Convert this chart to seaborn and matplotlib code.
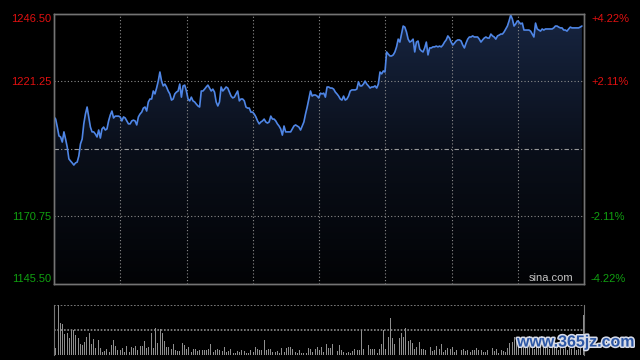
# intraday index chart (sina style): price line + volume bars
import numpy as np
import matplotlib
matplotlib.use('Agg')
import matplotlib.pyplot as plt
import matplotlib.patheffects as pe
from matplotlib.colors import LinearSegmentedColormap
from matplotlib.patches import PathPatch
import seaborn as sns

sns.set_style('dark')
plt.rcParams['font.family'] = ['Liberation Sans', 'DejaVu Sans']

# data
prev_close = 1196.00
price_ticks = [1145.50, 1170.75, 1221.25, 1246.50]
price_labels = ['1145.50', '1170.75', '1221.25', '1246.50']
pct_labels = ['-4.22%', '-2.11%', '+2.11%', '+4.22%']

price = [
    1208.0, 1207.2, 1204.2, 1200.9, 1200.5, 1198.6, 1202.4, 1199.7, 1196.7, 1192.3,
    1191.5, 1190.8, 1190.0, 1190.8, 1191.1, 1193.4, 1197.9, 1199.7, 1205.4, 1209.1,
    1211.7, 1208.0, 1204.2, 1202.4, 1202.4, 1201.6, 1200.5, 1203.1, 1200.1, 1203.5,
    1204.2, 1203.1, 1203.5, 1206.5, 1208.7, 1210.2, 1207.6, 1208.3, 1208.3, 1208.3,
    1208.0, 1206.5, 1208.0, 1207.6, 1206.5, 1205.4, 1205.4, 1206.5, 1206.8, 1206.5,
    1205.0, 1208.0, 1209.1, 1209.8, 1211.3, 1211.7,
    1210.2, 1213.6, 1214.7, 1214.7, 1217.7, 1216.6, 1218.8, 1221.4, 1224.8, 1221.4,
    1219.6, 1220.3, 1219.2, 1217.7, 1216.6, 1214.3, 1214.7, 1216.6, 1217.3, 1217.7,
    1220.3, 1215.4, 1219.6, 1219.9, 1217.7, 1214.7, 1214.0, 1215.4, 1214.0, 1213.6,
    1212.8, 1212.1, 1211.7, 1217.7, 1217.7, 1218.4, 1219.2, 1219.9, 1218.8, 1217.7,
    1218.4, 1217.3, 1213.6, 1212.1, 1213.6, 1219.2, 1217.7, 1218.4, 1219.2, 1218.8,
    1217.3, 1215.8, 1215.1, 1215.4,
    1216.6, 1217.7, 1214.0, 1214.7, 1214.7, 1214.0, 1211.7, 1211.3, 1211.3, 1209.8,
    1209.8, 1209.1, 1208.0, 1206.5, 1205.4, 1206.1, 1206.5, 1207.2, 1206.1, 1205.7,
    1206.1, 1208.3, 1207.2, 1207.2, 1206.5, 1205.4, 1204.6, 1203.5, 1201.2, 1204.6,
    1202.4, 1202.4, 1202.4, 1202.4, 1203.5, 1204.6, 1205.0, 1204.6, 1204.2, 1203.1,
    1204.6, 1206.1, 1209.1, 1211.7, 1214.7, 1217.7, 1215.8, 1216.2, 1216.2, 1215.8,
    1215.1, 1216.9, 1216.6,
    1216.9, 1215.4, 1219.2, 1219.2, 1218.8, 1218.8, 1218.4, 1217.3, 1216.6, 1215.8,
    1214.7, 1214.3, 1215.8, 1214.3, 1214.7, 1215.8, 1217.7, 1218.1, 1218.1, 1218.1,
    1218.4, 1221.1, 1219.6, 1219.6, 1220.3, 1221.4, 1220.3, 1219.6, 1218.8, 1219.2,
    1219.2, 1219.6, 1218.8, 1220.3, 1224.8, 1224.1, 1225.2, 1224.8, 1232.3, 1231.5,
    1230.8, 1230.8, 1231.2, 1232.3, 1234.2, 1237.1, 1236.0, 1239.0, 1242.0, 1241.6,
    1239.8, 1237.1, 1236.0, 1236.4, 1237.1,
    1232.3, 1236.0, 1236.4, 1233.4, 1232.7, 1232.3, 1233.8, 1236.0, 1231.2, 1233.8,
    1233.8, 1234.2, 1234.2, 1234.5, 1234.2, 1234.5, 1234.2, 1234.9, 1236.0, 1236.8,
    1238.3, 1237.5, 1236.0, 1234.9, 1235.6, 1236.4, 1236.8, 1236.8, 1236.4, 1234.9,
    1233.8, 1235.6, 1237.1, 1237.9, 1237.9, 1238.3, 1237.9, 1237.9, 1237.9, 1237.1,
    1236.0, 1236.8, 1237.5, 1237.9, 1237.5, 1237.5, 1239.0, 1238.3, 1237.9, 1237.1,
    1238.3, 1238.6, 1239.0, 1239.0, 1239.8,
    1240.9, 1242.0, 1243.9, 1246.1, 1244.6, 1242.0, 1242.8, 1243.9, 1243.5, 1242.8,
    1243.1, 1240.5, 1240.5, 1240.5, 1240.5, 1240.1, 1239.0, 1237.9, 1243.1, 1240.9,
    1240.5, 1240.1, 1240.9, 1240.5, 1240.9, 1240.9, 1240.9, 1240.9, 1240.9, 1241.3,
    1242.0, 1242.0, 1241.6, 1241.3, 1241.3, 1240.5, 1240.5, 1240.1, 1240.9, 1241.6,
    1241.3, 1241.3, 1241.3, 1241.3, 1241.3, 1241.6, 1242.0,
]

volume = [
    0.15, 1.00, 0.64, 0.62, 0.42, 0.44, 0.35, 0.50, 0.50, 0.40,
    0.35, 0.22, 0.21, 0.26, 0.37, 0.44, 0.22, 0.32, 0.15, 0.30,
    0.14, 0.06, 0.09, 0.12, 0.06, 0.20, 0.30, 0.19, 0.10, 0.10,
    0.14, 0.07, 0.18, 0.07, 0.16, 0.14, 0.18, 0.10, 0.18, 0.19,
    0.28, 0.14, 0.16, 0.44, 0.14, 0.54, 0.24, 0.52, 0.44, 0.28,
    0.16, 0.16, 0.12, 0.22, 0.10, 0.08, 0.08, 0.24, 0.20, 0.12,
    0.16, 0.06, 0.12, 0.12, 0.08, 0.10, 0.10, 0.10, 0.10, 0.12,
    0.22, 0.06, 0.10, 0.12, 0.10, 0.08, 0.16, 0.06, 0.08, 0.12,
    0.04, 0.04, 0.08, 0.06, 0.10, 0.08, 0.04, 0.04, 0.10, 0.06,
    0.16, 0.12, 0.10, 0.10, 0.30, 0.10, 0.12, 0.12, 0.06, 0.06,
    0.08, 0.04, 0.14, 0.06, 0.14, 0.16, 0.16, 0.12, 0.06, 0.04,
    0.10, 0.04, 0.04, 0.04, 0.14, 0.12, 0.06, 0.12, 0.16, 0.10,
    0.16, 0.07, 0.22, 0.14, 0.14, 0.22, 0.14, 0.08, 0.20, 0.10,
    0.06, 0.04, 0.06, 0.04, 0.08, 0.12, 0.10, 0.10, 0.50, 0.12,
    0.14, 0.20, 0.12, 0.12, 0.12, 0.04, 0.12, 0.22, 0.50, 0.12,
    0.36, 0.74, 0.34, 0.22, 0.16, 0.34, 0.44, 0.36, 0.54, 0.28,
    0.30, 0.24, 0.12, 0.16, 0.26, 0.12, 0.12, 0.10, 0.08, 0.16,
    0.08, 0.10, 0.18, 0.12, 0.22, 0.06, 0.10, 0.14, 0.12, 0.16,
    0.06, 0.10, 0.08, 0.10, 0.12, 0.08, 0.10, 0.06, 0.10, 0.10,
    0.14, 0.10, 0.10, 0.06, 0.06, 0.10, 0.06, 0.14, 0.08, 0.12,
    0.04, 0.10, 0.08, 0.06, 0.14, 0.24, 0.26, 0.36,
    0.30, 0.22, 0.18, 0.26, 0.20, 0.14, 0.22, 0.18, 0.12, 0.20,
    0.16, 0.24, 0.14, 0.18, 0.22, 0.12, 0.16, 0.20, 0.14, 0.10,
    0.18, 0.12, 0.16, 0.10, 0.14, 0.12, 0.18, 0.10, 0.12, 0.14,
    0.81,
]

red = '#e01010'
green = '#10a010'
grid_c = '#8c8c8c'
frame_c = '#747474'

fig = plt.figure(figsize=(6.4, 3.6), dpi=100, facecolor='black')
ax = fig.add_axes([54 / 640, 76 / 360, 530 / 640, 270 / 360])
axv = fig.add_axes([54 / 640, 5 / 360, 530 / 640, 50 / 360])

# ---- price panel
x = np.arange(len(price))
xmax = (len(price) - 1) / 0.996
ymin, ymax = price_ticks[0], price_ticks[-1]
ax.set_facecolor('black')

# gradient fill under the line
poly = ax.fill_between(x, price, ymin, color='none', lw=0)
clip = PathPatch(poly.get_paths()[0], transform=ax.transData, facecolor='none', edgecolor='none')
ax.add_patch(clip)
cmap = LinearSegmentedColormap.from_list('fill', ['#020305', '#0a0f1a', '#172541'])
grad = np.linspace(0, 1, 256).reshape(-1, 1)
img = ax.imshow(grad, cmap=cmap, aspect='auto', origin='lower',
                extent=[0, xmax, ymin, ymax], zorder=1)
img.set_clip_path(clip)

sns.lineplot(x=x, y=price, ax=ax, color='#4f86e6', linewidth=1.2, zorder=3)

ax.set_xlim(0, xmax)
ax.set_ylim(ymin, ymax)
ax.set_xticks(np.linspace(0, xmax, 9)[1:-1])
ax.set_xticklabels([])
ax.tick_params(axis='both', length=0)
ax.grid(False)
for xv in ax.get_xticks():
    ax.axvline(xv, color=grid_c, lw=0.8, ls=(0, (1, 2)), zorder=2)
for yv in [price_ticks[1], price_ticks[2]]:
    ax.axhline(yv, color=grid_c, lw=0.8, ls=(0, (1, 2)), zorder=2)
ax.axhline(prev_close, color='#9a9a9a', lw=0.8, ls=(0, (4, 2, 1, 2)), zorder=2)

ax.set_yticks(price_ticks)
ax.set_yticklabels(price_labels, fontsize=8)
ax.tick_params(axis='y', pad=2)
for lab, v in zip(ax.get_yticklabels(), price_ticks):
    lab.set_color(red if v > prev_close else green)
ax.get_yticklabels()[0].set_verticalalignment('bottom')
ax.get_yticklabels()[-1].set_verticalalignment('top')

ax2 = ax.twinx()
ax2.set_ylim(ymin, ymax)
ax2.set_yticks(price_ticks)
ax2.set_yticklabels(pct_labels, fontsize=8)
ax2.tick_params(axis='y', length=0, pad=5)
for lab, v in zip(ax2.get_yticklabels(), price_ticks):
    lab.set_color(red if v > prev_close else green)
ax2.get_yticklabels()[0].set_verticalalignment('bottom')
ax2.get_yticklabels()[-1].set_verticalalignment('top')
ax2.grid(False)

for a in (ax, ax2):
    for s in a.spines.values():
        s.set_visible(True)
        s.set_color(frame_c)
        s.set_linewidth(1)
ax.set_xlabel('')
ax.set_ylabel('')

ax.text(0.979, 0.004, 'sina.com', transform=ax.transAxes, ha='right', va='bottom',
        color='#c4c4c4', fontsize=8, zorder=4)

# ---- volume panel
axv.set_facecolor('black')
sns.barplot(x=np.arange(len(volume)), y=volume, ax=axv, color='#8e8e8e',
            saturation=1, width=0.45, errorbar=None, native_scale=True,
            linewidth=0, edgecolor='none', zorder=3)
axv.set_xlim(-0.9, len(volume) - 1 + 0.45)
axv.set_ylim(0, 1.0)
axv.axhline(1.0, color=grid_c, lw=1.2, ls=(0, (1, 1)), zorder=2)
axv.axhline(0.5, color=grid_c, lw=1.2, ls=(0, (1, 1)), zorder=2)
axv.set_xticks([])
axv.set_yticks([])
axv.set_xlabel('')
axv.set_ylabel('')
axv.grid(False)
for name, s in axv.spines.items():
    s.set_visible(name in ('left', 'right'))
    s.set_color(frame_c)

# site watermark
fig.text(517 / 640, 18 / 360, 'www.365jz.com', ha='left', va='center',
         fontsize=11.5, fontweight='bold', color='#2d57a5',
         path_effects=[pe.withStroke(linewidth=2.2, foreground='#d8dce8')])

fig.savefig('out.png', dpi=100, facecolor='black')
